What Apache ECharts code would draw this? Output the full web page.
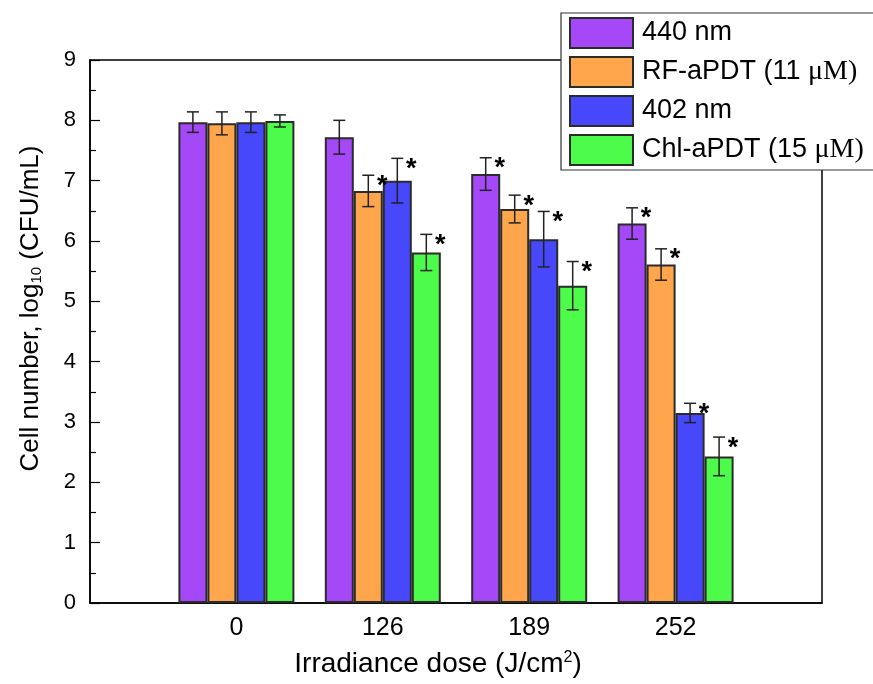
<!DOCTYPE html>
<html><head><meta charset="utf-8">
<script src="https://cdn.jsdelivr.net/npm/echarts@6/dist/echarts.min.js"></script>
<style>html,body{margin:0;padding:0;background:#fff}#c{width:873px;height:684px}</style>
</head><body><div id="c"></div>
<script>
const categories = ['0', '126', '189', '252'];
const seriesNames = ['440 nm', 'RF-aPDT (11 μM)', '402 nm', 'Chl-aPDT (15 μM)'];
const v440 = [7.97, 7.72, 7.11, 6.29];
const e440 = [0.17, 0.28, 0.27, 0.26];
const vRF  = [7.95, 6.83, 6.53, 5.61];
const eRF  = [0.19, 0.26, 0.23, 0.26];
const v402 = [7.97, 7.00, 6.03, 3.15];
const e402 = [0.17, 0.37, 0.46, 0.16];
const vChl = [7.99, 5.81, 5.26, 2.43];
const eChl = [0.10, 0.30, 0.40, 0.32];
const star440 = [0, 0, 1, 1];
const starRF  = [0, 1, 1, 1];
const star402 = [0, 1, 1, 1];
const starChl = [0, 1, 1, 1];
const yTicks = [0, 1, 2, 3, 4, 5, 6, 7, 8, 9];

const colors = ['#A548F8', '#FFA64D', '#4747FB', '#4DFB4A'];
const values = [v440, vRF, v402, vChl];
const errors = [e440, eRF, e402, eChl];
const stars = [star440, starRF, star402, starChl];
const xCats = [''].concat(categories, ['']);
const BW = 29;
const SANS = '"Liberation Sans", Arial';

const chart = echarts.init(document.getElementById('c'));
const series = [];
values.forEach((vals, i) => {
  series.push({
    name: seriesNames[i], type: 'bar', barWidth: BW, barGap: '0%',
    data: ['-'].concat(vals, ['-']),
    itemStyle: { color: colors[i], borderColor: '#2b2b2b', borderWidth: 2 },
    emphasis: { disabled: true }
  });
});
values.forEach((vals, i) => {
  const off = (i - 1.5) * BW;
  series.push({
    type: 'custom', z: 5, silent: true,
    data: vals.map((v, k) => [k + 1, v - errors[i][k], v + errors[i][k], stars[i][k]]),
    encode: { x: 0, y: [1, 2] },
    renderItem: function (params, api) {
      const xi = api.value(0);
      const lo = api.coord([xi, api.value(1)]);
      const hi = api.coord([xi, api.value(2)]);
      const x = lo[0] + off;
      const cw = 6;
      const st = { stroke: '#222', lineWidth: 1.5 };
      const ch = [
        { type: 'line', shape: { x1: x, y1: lo[1], x2: x, y2: hi[1] }, style: st },
        { type: 'line', shape: { x1: x - cw, y1: lo[1], x2: x + cw, y2: lo[1] }, style: st },
        { type: 'line', shape: { x1: x - cw, y1: hi[1], x2: x + cw, y2: hi[1] }, style: st }
      ];
      if (api.value(3)) {
        ch.push({ type: 'text', x: x + 14, y: hi[1] + 11,
          style: { text: '*', font: 'bold 27px ' + SANS, fill: '#000', align: 'center', verticalAlign: 'middle' } });
      }
      return { type: 'group', children: ch };
    }
  });
});

chart.setOption({
  animation: false,
  backgroundColor: '#fff',
  grid: { left: 90, right: 51, top: 60, bottom: 81, show: true, borderColor: '#000', borderWidth: 1.5 },
  legend: {
    orient: 'vertical', left: 561, top: 13, data: seriesNames,
    itemWidth: 63, itemHeight: 30, itemGap: 7,
    padding: [4, 40, 4, 8], backgroundColor: '#fff', borderColor: '#333', borderWidth: 1.2,
    icon: 'rect',
    formatter: function (n) {
      const idx = n.indexOf('μM)');
      if (idx < 0) return '{t|' + n + '}';
      return '{t|' + n.slice(0, idx) + '}{s|μM)}';
    },
    textStyle: {
      padding: [0, 0, 0, 4],
      rich: {
        t: { fontFamily: SANS, fontSize: 27, color: '#000' },
        s: { fontFamily: '"Liberation Serif", "Times New Roman"', fontSize: 28, color: '#000' }
      }
    },
    selectedMode: false
  },
  xAxis: {
    type: 'category', data: xCats, boundaryGap: false,
    axisLine: { lineStyle: { color: '#000', width: 1.5 } },
    axisTick: { show: false },
    axisLabel: { fontFamily: SANS, fontSize: 25, color: '#000', margin: 13 },
    name: '{a|Irradiance dose (J/cm}{b|2}{a|)}',
    nameLocation: 'middle', nameGap: 47,
    nameTextStyle: {
      padding: [0, 36, 0, 0],
      rich: {
        a: { fontFamily: SANS, fontSize: 28, color: '#000' },
        b: { fontFamily: SANS, fontSize: 16, color: '#000', verticalAlign: 'top', padding: [0, 0, 10, 0] }
      }
    }
  },
  yAxis: {
    type: 'value', min: 0, max: 9, interval: 1,
    axisLine: { show: true, lineStyle: { color: '#000', width: 1.5 } },
    axisTick: { show: true, inside: true, length: 10, lineStyle: { color: '#000', width: 1.2 } },
    minorTick: { show: true, splitNumber: 2, length: 6, lineStyle: { color: '#000', width: 1.2 } },
    splitLine: { show: false },
    axisLabel: { fontFamily: SANS, fontSize: 22, color: '#000', margin: 14,
      formatter: function (v) { return yTicks.indexOf(v) >= 0 ? String(v) : ''; } },
    name: '{a|Cell number, log}{b|10}{a| (CFU/mL)}',
    nameLocation: 'middle', nameGap: 46, nameRotate: 90,
    nameTextStyle: {
      padding: [0, 0, 0, 46],
      rich: {
        a: { fontFamily: SANS, fontSize: 26, color: '#000' },
        b: { fontFamily: SANS, fontSize: 15, color: '#000', verticalAlign: 'bottom', padding: [10, 0, 0, 0] }
      }
    }
  },
  series: series
});
</script>
</body></html>
